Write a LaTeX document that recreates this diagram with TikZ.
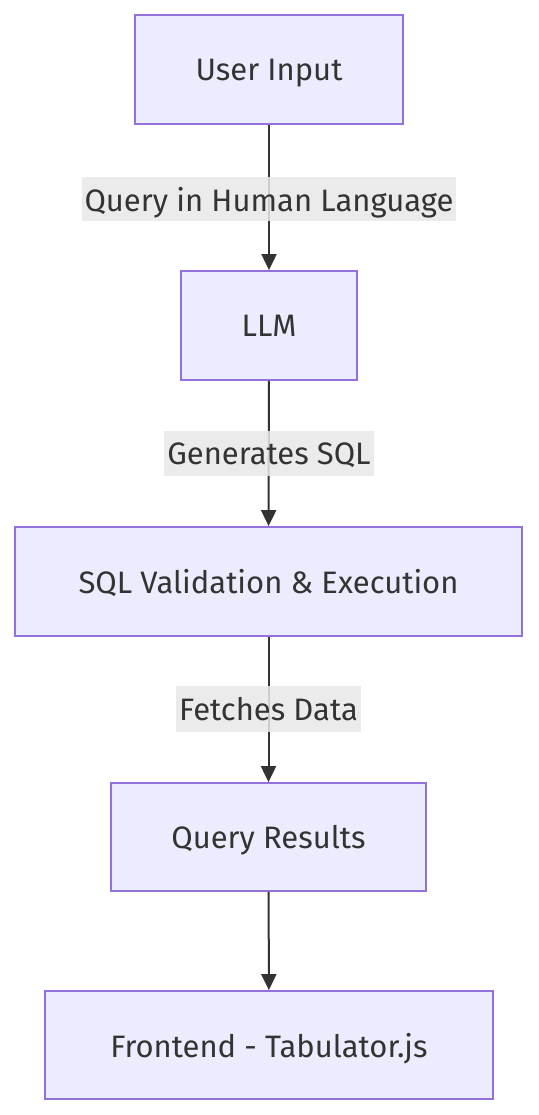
\documentclass[tikz,border=0pt]{standalone}
\usepackage{fontspec}
\setmainfont{Fira Sans}
\usetikzlibrary{arrows.meta}
\definecolor{boxfill}{HTML}{ECECFF}
\definecolor{boxdraw}{HTML}{9370DB}
\definecolor{txt}{HTML}{333333}
\definecolor{lblbg}{HTML}{E8E8E8}
\begin{document}
\begin{tikzpicture}[x=1pt,y=-1pt,
  box/.style={draw=boxdraw,fill=boxfill,line width=1.8pt,inner sep=0pt,
    text=txt,text depth=0pt,font=\fontsize{31}{36}\selectfont},
  lbl/.style={fill=lblbg,fill opacity=0.85,text opacity=1,inner sep=0pt,
    text=txt,text depth=0pt,font=\fontsize{31}{36}\selectfont},
  edge/.style={draw=txt,line width=2pt,-{Triangle[length=16pt,width=15pt]}}]
\useasboundingbox (0,0) rectangle (538,1115);
\node[box,minimum width=268pt,minimum height=109pt] (a) at (269,69.5) {User Input};
\node[box,minimum width=176pt,minimum height=109pt] (b) at (269,325.5) {LLM};
\node[box,minimum width=507pt,minimum height=109pt] (c) at (268.5,581.5) {SQL Validation \& Execution};
\node[box,minimum width=315pt,minimum height=108pt] (d) at (268.5,837) {Query Results};
\node[box,minimum width=448pt,minimum height=108pt] (e) at (269,1045) {Frontend - Tabulator.js};
\draw[edge] (a) -- (b);
\draw[edge] (b) -- (c);
\draw[edge] (c) -- (d);
\draw[edge] (d) -- (e);
\node[lbl,minimum width=374pt,minimum height=44pt] (la) at (269,199) {Query in Human Language};
\node[lbl,minimum width=210pt,minimum height=45pt] (lb) at (269,453.5) {Generates SQL};
\node[lbl,minimum width=185pt,minimum height=46pt] (lc) at (268.5,709) {Fetches Data};
\end{tikzpicture}
\end{document}
